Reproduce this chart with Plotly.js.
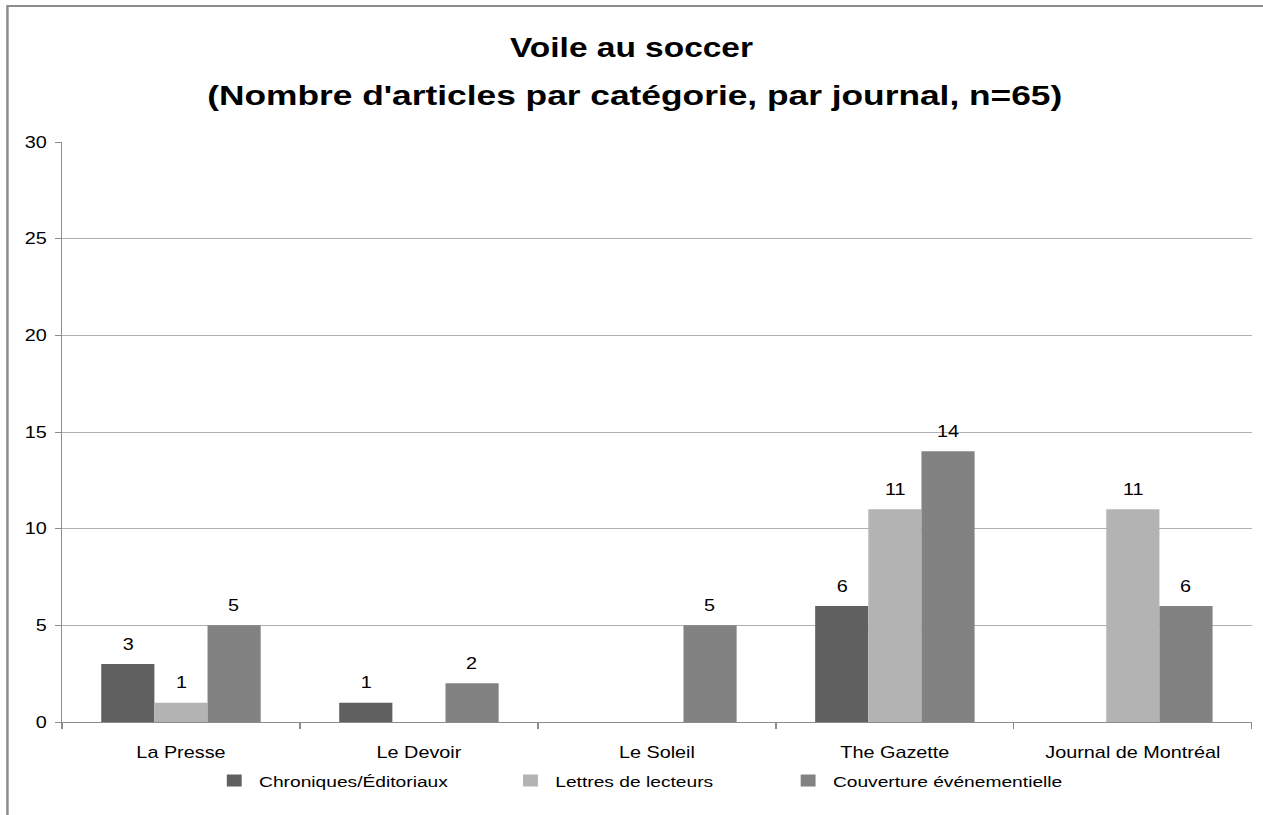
<!DOCTYPE html>
<html>
<head>
<meta charset="utf-8">
<script src="https://cdn.plot.ly/plotly-3.0.1.min.js"></script>
<style>
  html, body { margin: 0; padding: 0; background: #ffffff; overflow: hidden; }
  #wrap { width: 1263px; height: 815px; overflow: hidden; position: relative; }
  #chart { position: absolute; left: 0; top: 0; transform-origin: 0 0; }
</style>
</head>
<body>
<div id="wrap"><div id="chart"></div></div>
<script>
// ---- data ----
const categories = ['La Presse', 'Le Devoir', 'Le Soleil', 'The Gazette', 'Journal de Montréal'];
const seriesNames = ['Chroniques/Éditoriaux', 'Lettres de lecteurs', 'Couverture événementielle'];
const chroniques = [3, 1, null, 6, null];
const lettres = [1, null, null, 11, 11];
const couverture = [5, 2, 5, 14, 6];
const yTickValues = [0, 5, 10, 15, 20, 25, 30];
const titleLine1 = 'Voile au soccer';
const titleLine2 = "(Nombre d'articles par catégorie, par journal, n=65)";

// ---- styling / geometry ----
const FULL_W = 1263, H = 815;
const SX = 1.24;                 // horizontal stretch of the reference
const W = Math.round(FULL_W / SX);
const M = { l: 50, r: 9, t: 142, b: 93 };
const plotW = W - M.l - M.r;
const plotH = H - M.t - M.b;
const BARGAP = 0.33;
const colors = ['#606060', '#b3b3b3', '#828282'];
const FONT = 'Liberation Sans, Arial, Helvetica, sans-serif';
const legendWidths = [194, 179, 190];

const seriesValues = [chroniques, lettres, couverture];

const traces = seriesValues.map((vals, i) => ({
  type: 'bar',
  name: seriesNames[i],
  x: categories,
  y: vals,
  marker: { color: colors[i], line: { width: 0 } },
  legendwidth: legendWidths[i],
  hoverinfo: 'none'
}));

// data labels above each bar
const barW = (plotW / categories.length) * (1 - BARGAP) / seriesValues.length;
const annotations = [];
seriesValues.forEach((vals, i) => {
  vals.forEach((v, j) => {
    if (v === null || v === 0) return;
    annotations.push({
      x: categories[j], y: v, xref: 'x', yref: 'y',
      text: String(v), showarrow: false,
      xshift: (i - 1) * barW, yshift: 20,
      xanchor: 'center', yanchor: 'middle',
      font: { family: FONT, size: 16, color: '#000000' }
    });
  });
});
// second title line
annotations.push({
  xref: 'paper', yref: 'paper',
  x: (512 - M.l) / plotW, y: (plotH - (95 - M.t)) / plotH,
  text: titleLine2, showarrow: false,
  xanchor: 'center', yanchor: 'middle',
  font: { family: FONT, size: 28.5, color: '#000000', weight: 'bold' }
});

const layout = {
  width: W, height: H,
  margin: M,
  paper_bgcolor: '#ffffff', plot_bgcolor: '#ffffff',
  barmode: 'group', bargap: BARGAP, bargroupgap: 0,
  title: {
    text: titleLine1,
    font: { family: FONT, size: 27, color: '#000000', weight: 'bold' },
    x: 0.5, xref: 'container', xanchor: 'center',
    y: 1 - 47.5 / H, yref: 'container', yanchor: 'middle'
  },
  xaxis: {
    type: 'category',
    showline: true, linecolor: '#8c8c8c', linewidth: 1,
    ticks: 'outside', tickson: 'boundaries', ticklen: 6, tickcolor: '#8c8c8c', tickwidth: 1,
    showgrid: false, zeroline: false,
    tickfont: { family: FONT, size: 16, color: '#000000' },
    ticklabelstandoff: 16,
    fixedrange: true
  },
  yaxis: {
    range: [0, 30], tickvals: yTickValues, ticktext: yTickValues.map(String),
    showline: true, linecolor: '#8c8c8c', linewidth: 1,
    ticks: 'outside', ticklen: 5, tickcolor: '#8c8c8c', tickwidth: 1,
    showgrid: true, gridcolor: '#b0b0b0', gridwidth: 1,
    zeroline: false,
    tickfont: { family: FONT, size: 16, color: '#000000' },
    ticklabelstandoff: 3,
    fixedrange: true
  },
  showlegend: true,
  legend: {
    orientation: 'h',
    x: (169 - M.l) / plotW, xanchor: 'left',
    y: (plotH - (781 - M.t)) / plotH, yanchor: 'middle',
    font: { family: FONT, size: 15.5, color: '#000000' },
    bgcolor: 'rgba(0,0,0,0)', borderwidth: 0,
    traceorder: 'normal'
  },
  shapes: [{
    type: 'rect', xref: 'paper', yref: 'paper',
    x0: (6 - M.l) / plotW, x1: 1.1,
    y0: -0.3, y1: (plotH - (6 - M.t)) / plotH,
    line: { color: '#8c8c8c', width: 2 }, fillcolor: 'rgba(0,0,0,0)',
    layer: 'below'
  }],
  annotations: annotations
};

const chart = document.getElementById('chart');
chart.style.transform = 'scaleX(' + (FULL_W / W) + ')';
Plotly.newPlot(chart, traces, layout, { displayModeBar: false, staticPlot: true });
</script>
</body>
</html>
